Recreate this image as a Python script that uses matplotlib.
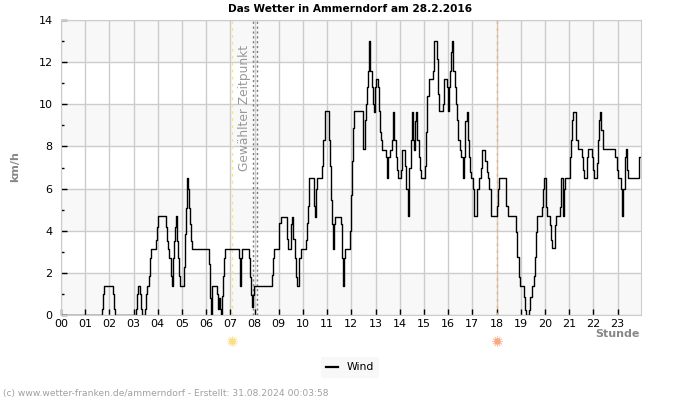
#!/usr/bin/env python3
"""Wind speed in Ammerndorf on 28.2.2016, hourly steps read off the station plot."""
import matplotlib

matplotlib.use("Agg")
import matplotlib.pyplot as plt
from matplotlib.lines import Line2D

# step start times [h]
HOURS = [
    0.00, 1.71, 1.75, 1.79, 2.16, 2.21, 2.25, 2.27,
    3.10, 3.14, 3.18, 3.27, 3.31, 3.35,
    3.47, 3.51, 3.57, 3.65, 3.69, 3.73, 3.93, 3.97, 4.00, 4.34, 4.38, 4.44, 4.48, 4.53,
    4.57, 4.62, 4.66, 4.70, 4.74, 4.78, 4.82, 4.86, 4.91, 5.08, 5.13, 5.17, 5.21, 5.25,
    5.29, 5.33, 5.37, 5.41, 6.13, 6.16, 6.20, 6.23, 6.26, 6.45, 6.49, 6.53, 6.57, 6.60,
    6.64, 6.68, 6.72, 6.76, 7.37, 7.41, 7.45, 7.49, 7.78, 7.81, 7.85, 7.89, 7.95,
    7.99, 8.73, 8.77, 8.82, 9.02, 9.08, 9.35, 9.39, 9.52, 9.56, 9.60, 9.66, 9.70, 9.74,
    9.85, 9.90, 10.12, 10.17, 10.22, 10.26, 10.47, 10.51, 10.55, 10.59, 10.80, 10.84,
    10.91, 11.06, 11.12, 11.16, 11.20, 11.24, 11.28, 11.34, 11.56, 11.61, 11.65, 11.69,
    11.75, 11.94, 11.98, 12.04, 12.08, 12.11, 12.47, 12.49, 12.55, 12.59, 12.63, 12.67,
    12.71, 12.74, 12.78, 12.85, 12.89, 12.92, 12.96, 13.00, 13.11, 13.16, 13.20,
    13.24, 13.27, 13.43, 13.49, 13.53, 13.58, 13.67, 13.71, 13.73, 13.78, 13.83, 13.87,
    13.91, 14.05, 14.08, 14.11, 14.22, 14.27, 14.33, 14.35, 14.40, 14.45, 14.49, 14.52,
    14.56, 14.60, 14.64, 14.68, 14.73, 14.78, 14.84, 14.88, 15.04, 15.08, 15.14, 15.19,
    15.39, 15.43, 15.55, 15.59, 15.62, 15.79, 15.83, 15.95, 15.99, 16.03, 16.08, 16.13,
    16.17, 16.21, 16.27, 16.32, 16.37, 16.42, 16.48, 16.52, 16.60, 16.64, 16.70, 16.76,
    16.81, 16.85, 16.90, 16.96, 17.04, 17.08, 17.21, 17.26, 17.36, 17.41, 17.54, 17.59,
    17.65, 17.70, 17.76, 18.03, 18.07, 18.11, 18.41, 18.46, 18.80, 18.85, 18.91, 18.95,
    19.14, 19.18, 19.21, 19.35, 19.40, 19.46, 19.54, 19.58, 19.62, 19.67, 19.87, 19.91,
    19.95, 20.05, 20.09, 20.20, 20.24, 20.29, 20.40, 20.44, 20.62, 20.66, 20.68, 20.73,
    20.77, 20.82, 21.03, 21.08, 21.13, 21.17, 21.30, 21.36, 21.53, 21.57, 21.61, 21.73,
    21.77, 21.95, 22.00, 22.03, 22.16, 22.20, 22.24, 22.28, 22.32, 22.38, 22.88, 22.96,
    23.00, 23.15, 23.19, 23.23, 23.29, 23.33, 23.37, 23.41, 23.45, 23.89, 23.95,
]
# wind speed from that time on [km/h]
KMH = [
    0.0, 0.3, 1.0, 1.37, 1.0, 0.3, 0.0, 0.0,
    0.3, 1.0, 1.37, 1.0, 0.3, 0.0,
    0.3, 1.0, 1.37, 1.85, 2.7, 3.15, 3.57, 4.2, 4.7, 4.2, 3.5, 3.15, 2.7, 1.85,
    1.37, 2.7, 3.5, 4.2, 4.7, 3.5, 2.7, 1.85, 1.37, 2.3, 3.85, 5.1, 6.5, 6.0,
    5.1, 4.3, 3.5, 3.15, 2.4, 0.8, 0.0, 0.9, 1.37, 1.0, 0.3, 0.8, 0.3, 0.0,
    0.9, 1.85, 2.7, 3.15, 2.7, 1.37, 2.7, 3.15, 2.7, 1.8, 0.95, 0.4, 0.95,
    1.37, 1.9, 2.7, 3.15, 4.35, 4.67, 3.6, 3.15, 4.3, 4.67, 3.6, 2.7, 1.8, 1.37,
    2.7, 3.15, 3.55, 4.35, 5.15, 6.5, 5.15, 4.67, 6.0, 6.5, 7.07, 8.3,
    9.67, 8.3, 7.07, 5.45, 4.3, 3.15, 4.3, 4.67, 4.3, 2.7, 1.37, 2.7,
    3.15, 4.0, 5.7, 7.3, 8.86, 9.67, 8.3, 7.86, 9.25, 10.0, 10.8, 11.6,
    12.5, 13.0, 11.6, 10.8, 10.0, 9.65, 10.8, 11.2, 10.8, 9.7, 8.7,
    8.3, 7.85, 7.5, 6.5, 7.5, 7.85, 8.3, 9.2, 9.65, 8.3, 7.5, 6.9,
    6.5, 6.9, 7.5, 7.85, 7.05, 6.0, 5.5, 4.7, 7.0, 8.3, 9.2, 9.65,
    8.3, 7.85, 9.2, 9.65, 8.3, 7.5, 6.9, 6.5, 7.05, 8.7, 10.4, 11.2,
    11.6, 13.0, 12.15, 10.5, 9.7, 10.0, 11.2, 10.8, 9.7, 10.8, 11.6, 12.5,
    13.0, 11.6, 10.8, 10.0, 9.25, 8.3, 7.85, 7.5, 6.5, 7.5, 9.2, 9.65,
    8.3, 7.5, 6.8, 6.5, 6.0, 4.7, 6.0, 6.5, 7.0, 7.85, 7.3, 6.8,
    6.5, 6.0, 4.7, 5.15, 6.0, 6.5, 5.15, 4.68, 3.95, 2.77, 1.82, 1.37,
    0.87, 0.24, 0.0, 0.24, 0.87, 1.37, 1.85, 2.77, 3.95, 4.68, 5.14, 6.0,
    6.5, 5.14, 4.68, 4.27, 3.56, 3.16, 4.27, 4.68, 5.14, 6.0, 6.5, 4.7,
    6.0, 6.5, 7.5, 8.3, 9.26, 9.65, 8.3, 7.86, 7.5, 6.88, 6.5, 7.5,
    7.86, 7.5, 6.88, 6.5, 7.2, 8.3, 9.26, 9.65, 8.78, 7.86, 7.5, 6.88,
    6.5, 6.0, 4.68, 6.0, 6.88, 7.5, 7.86, 6.88, 6.5, 7.5, 7.5,
]
HOUR_LABELS = [f"{h:02d}" for h in range(24)]
KMH_TICKS = [0, 2, 4, 6, 8, 10, 12, 14]
KMH_MINOR = [1, 3, 5, 7, 9, 11, 13]
SHADED_BANDS = [(0, 2), (4, 6), (8, 10), (12, 14)]
SUNRISE = 7.07
SUNSET = 18.03
SELECTED = (7.93, 8.08)

GRID = "#cccccc"
GREY = "#888888"

plt.rcParams["font.family"] = "DejaVu Sans"
fig = plt.figure(figsize=(7, 4), dpi=100)
ax = fig.add_axes([61 / 700, 85 / 400, 579.5 / 700, 295 / 400])

for lo, hi in SHADED_BANDS:
    ax.axhspan(lo, hi, color="#f8f8f8", lw=0, zorder=0)
ax.grid(True, which="major", color=GRID, lw=1)
ax.set_axisbelow(True)

ax.axvline(SUNRISE, color="#f5e77a", lw=1, ls=(0, (2, 3)), zorder=2)
ax.axvline(SUNSET, color="#f0b070", lw=1, ls=(0, (2, 3)), zorder=2)
for x in SELECTED:
    ax.axvline(x, color="#777777", lw=1, ls=(0, (1.5, 2)), zorder=2)
ax.text(7.6, 6.85, "Gewählter Zeitpunkt", rotation=90, ha="center", va="bottom",
        fontsize=8.8, color="#999999")

ax.step(HOURS, KMH, where="post", color="black", lw=1, zorder=3)

ax.set_xlim(0, 23.95)
ax.set_ylim(0, 14)
ax.set_xticks(range(24), HOUR_LABELS)
ax.set_yticks(KMH_TICKS)
ax.set_yticks(KMH_MINOR, minor=True)
ax.tick_params(axis="x", direction="in", length=4, width=1, pad=3, labelsize=8)
ax.tick_params(axis="y", which="major", direction="in", length=4, width=1, pad=6, labelsize=8)
ax.tick_params(axis="y", which="minor", direction="in", length=2, width=1)
# the frame sits on top so calm periods do not paint the baseline black
for spine in ax.spines.values():
    spine.set_color(GRID)
    spine.set_zorder(6)

# sun markers below the axis, sunrise and sunset
trans = ax.get_xaxis_transform()
for x, ray, core in ((SUNRISE, "#fbe9a8", "#fbdf86"), (SUNSET, "#f9c9ae", "#f6a982")):
    ax.scatter([x], [-0.088], s=50, marker=(12, 2, 0), color=ray, lw=0.7,
               transform=trans, clip_on=False, zorder=4)
    ax.scatter([x], [-0.088], s=20, marker="o", color=core, lw=0,
               transform=trans, clip_on=False, zorder=5)

fig.text(350 / 700, 1 - 8.5 / 400, "Das Wetter in Ammerndorf am 28.2.2016", ha="center",
         va="center", fontsize=7.6, fontweight="bold")
fig.text(15 / 700, 1 - 167 / 400, "km/h", rotation=90, ha="center", va="center",
         fontsize=8, fontweight="bold", color=GREY)
fig.text(640 / 700, 1 - 334 / 400, "Stunde", ha="right", va="center",
         fontsize=8, fontweight="bold", color=GREY)
fig.text(3 / 700, 1 - 393.5 / 400, "(c) www.wetter-franken.de/ammerndorf - Erstellt: 31.08.2024 00:03:58",
         ha="left", va="center", fontsize=6.6, color="#a0a0a0")

wind_handle = Line2D([], [], color="black", lw=1.6, label="Wind")
fig.legend(handles=[wind_handle], loc="center", bbox_to_anchor=(350 / 700, 1 - 367.5 / 400),
           fontsize=7.8, frameon=True, facecolor="#f8f8f8", edgecolor="none", fancybox=False,
           framealpha=1, handlelength=1.1, handletextpad=0.8, borderpad=0.5)

fig.savefig("out.png", dpi=100)
